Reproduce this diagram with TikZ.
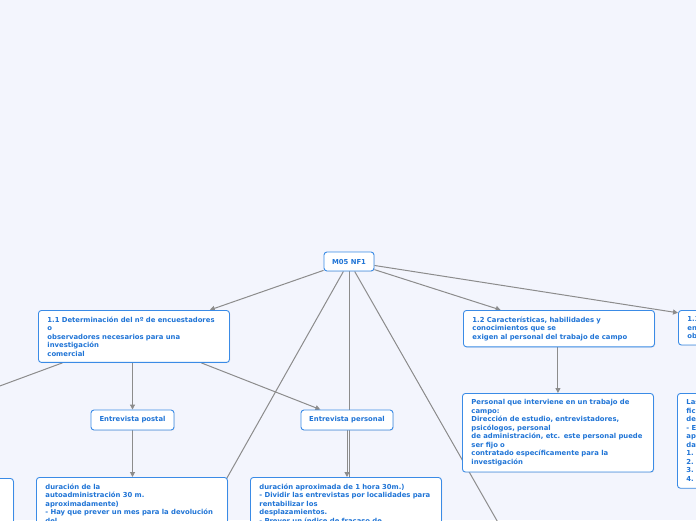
\documentclass[tikz,border=0pt]{standalone}
\usepackage{fontspec}
\setmainfont{DejaVu Sans}
\usetikzlibrary{arrows.meta,shadows}
\definecolor{bgcol}{HTML}{F3F5FD}
\definecolor{tblue}{HTML}{1F74D6}
\definecolor{bblue}{HTML}{3A8BE6}
\definecolor{lgrey}{HTML}{8C8C8C}
\pgfdeclarelayer{bglayer}
\pgfsetlayers{bglayer,main}
\tikzset{
  boxbase/.style={draw=bblue, fill=white, rounded corners=3pt, line width=0.9pt,
    text=tblue, font=\bfseries\fontsize{6.85}{8.5}\selectfont,
    drop shadow={opacity=0.12, shadow xshift=0.8pt, shadow yshift=-0.8pt}},
  wbox/.style={boxbase, align=left, inner xsep=9pt, inner ysep=6.2pt, anchor=north west, text width=173pt},
  sbox/.style={boxbase, align=center, inner sep=2pt, anchor=center},
  conn/.style={draw=lgrey, line width=1pt, -{Triangle[length=5pt,width=5pt]}},
  plain/.style={draw=lgrey, line width=1pt},
}
\begin{document}
\begin{tikzpicture}[x=1pt,y=-1pt]
\useasboundingbox (0,0) rectangle (696,520);
\begin{pgfonlayer}{bglayer}
\fill[bgcol] (0,0) rectangle (696,520);
\end{pgfonlayer}
\clip (0,0) rectangle (696,520);

\node[sbox, minimum width=50pt, minimum height=19pt] (root) at (349,261.5) {M05 NF1};

\node[wbox] (n11) at (38,310) {1.1 Determinación del nº de encuestadores\\o\\observadores necesarios para una\\investigación\\comercial};
\node[wbox] (n12) at (463,310) {1.2 Características, habilidades y\\conocimientos que se\\exigen al personal del trabajo de campo};
\node[wbox] (n13) at (678,310) {1.3\\en\\ob};

\node[sbox, minimum width=83pt, minimum height=20pt] (epost) at (132.5,420) {Entrevista postal};
\node[sbox, minimum width=92pt, minimum height=20pt] (epers) at (347,420) {Entrevista personal};

\node[wbox] (pint) at (462,393) {Personal que interviene en un trabajo de\\campo:\\Dirección de estudio, entrevistadores,\\psicólogos, personal\\de administración, etc. este personal puede\\ser fijo o\\contratado específicamente para la\\investigación};
\node[wbox] (rnode) at (677,393) {Las\\fich\\de\\- E\\apa\\dat\\1. 1\\2. I\\3. I\\4. (};

\node[wbox, minimum height=60pt] (lnode) at (-178,478) {};
\node[wbox] (podesc) at (36,477) {duración de la\\autoadministración 30 m.\\aproximadamente)\\- Hay que prever un mes para la devolución\\del};
\node[wbox] (pedesc) at (250,477) {duración aproximada de 1 hora 30m.)\\- Dividir las entrevistas por localidades para\\rentabilizar los\\desplazamientos.\\- Prever un índice de fracaso de};

\coordinate (h1) at (192,540);
\coordinate (h2) at (508,540);
\coordinate (h3) at (-20,393.3);

\begin{pgfonlayer}{bglayer}
\draw[conn] (root) -- (n11);
\draw[conn] (root) -- (n12);
\draw[conn] (root) -- (n13);
\draw[plain] (root.south) -- (root.south |- pedesc.north);
\draw[plain] (root) -- (h1);
\draw[plain] (root) -- (h2);
\draw[plain] (n11) -- (h3);
\draw[conn] (n11.south -| epost.north) -- (epost.north);
\draw[conn] (n11) -- (epers);
\draw[conn] (n12.south -| pint.north) -- (pint.north);
\draw[conn] (epost.south) -- (epost.south |- podesc.north);
\draw[conn] (epers.south) -- (epers.south |- pedesc.north);
\end{pgfonlayer}
\end{tikzpicture}
\end{document}
